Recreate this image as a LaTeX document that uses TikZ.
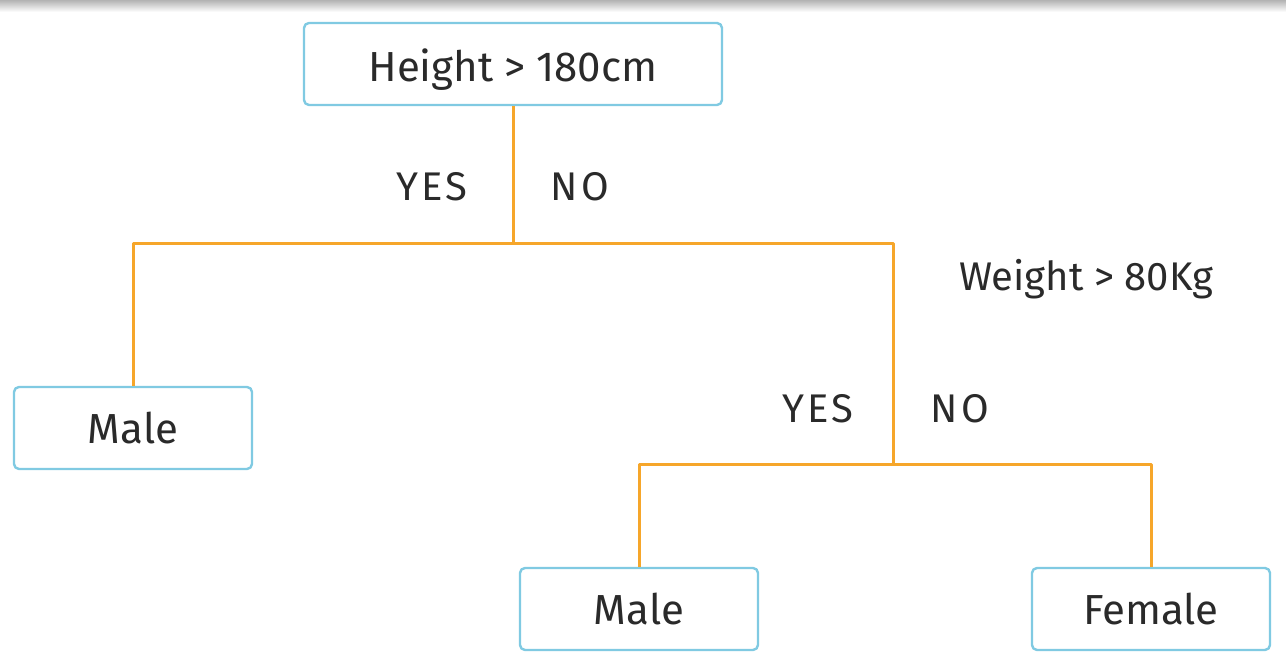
\documentclass[tikz,border=0pt]{standalone}
\usepackage{fontspec}
\setmainfont{Fira Sans}
\definecolor{boxblue}{RGB}{128,202,226}
\definecolor{branchorange}{RGB}{246,166,42}
\definecolor{textgrey}{RGB}{42,42,42}
\begin{document}
\begin{tikzpicture}[x=1pt,y=1pt,line join=round,
    test/.style={draw=boxblue,line width=2.4pt,rounded corners=5pt,fill=white,
      text=textgrey,font=\fontsize{42}{48}\selectfont,inner sep=0pt,text depth=0pt},
    leaf/.style={test,minimum width=238,minimum height=82},
    answer/.style={text=textgrey,font=\fontsize{40}{46}\selectfont,inner sep=0pt,text depth=0pt},
    branch/.style={draw=branchorange,line width=3pt}]
  \useasboundingbox (0,0) rectangle (1286,652);
  \shade[top color=black!30,bottom color=white] (0,640) rectangle (1286,652);
  % questions
  \node[test,minimum width=418,minimum height=82,text height=36pt] (height) at (513,588) {Height > 180cm};
  \node[answer] (weight) at (1086,377) {Weight > 80Kg};
  % leaves
  \node[leaf] (maleL) at (133,224) {Male};
  \node[leaf] (maleR) at (639,43) {Male};
  \node[leaf] (female) at (1151,43) {Female};
  % junctions
  \coordinate (split1) at (513,408);
  \coordinate (split2) at (893,187);
  \draw[branch] (height.south) -- (split1) -| (maleL.north);
  \draw[branch] (split1) -| (split2);
  \draw[branch] (split2) -| (maleR.north);
  \draw[branch] (split2) -| (female.north);
  % answers
  \node[answer] (yes1) at (432,466) {\addfontfeature{LetterSpace=8}YES};
  \node[answer] (no1) at (580,466) {\addfontfeature{LetterSpace=8}NO};
  \node[answer] (yes2) at (818,244) {\addfontfeature{LetterSpace=8}YES};
  \node[answer] (no2) at (960,244) {\addfontfeature{LetterSpace=8}NO};
\end{tikzpicture}
\end{document}
